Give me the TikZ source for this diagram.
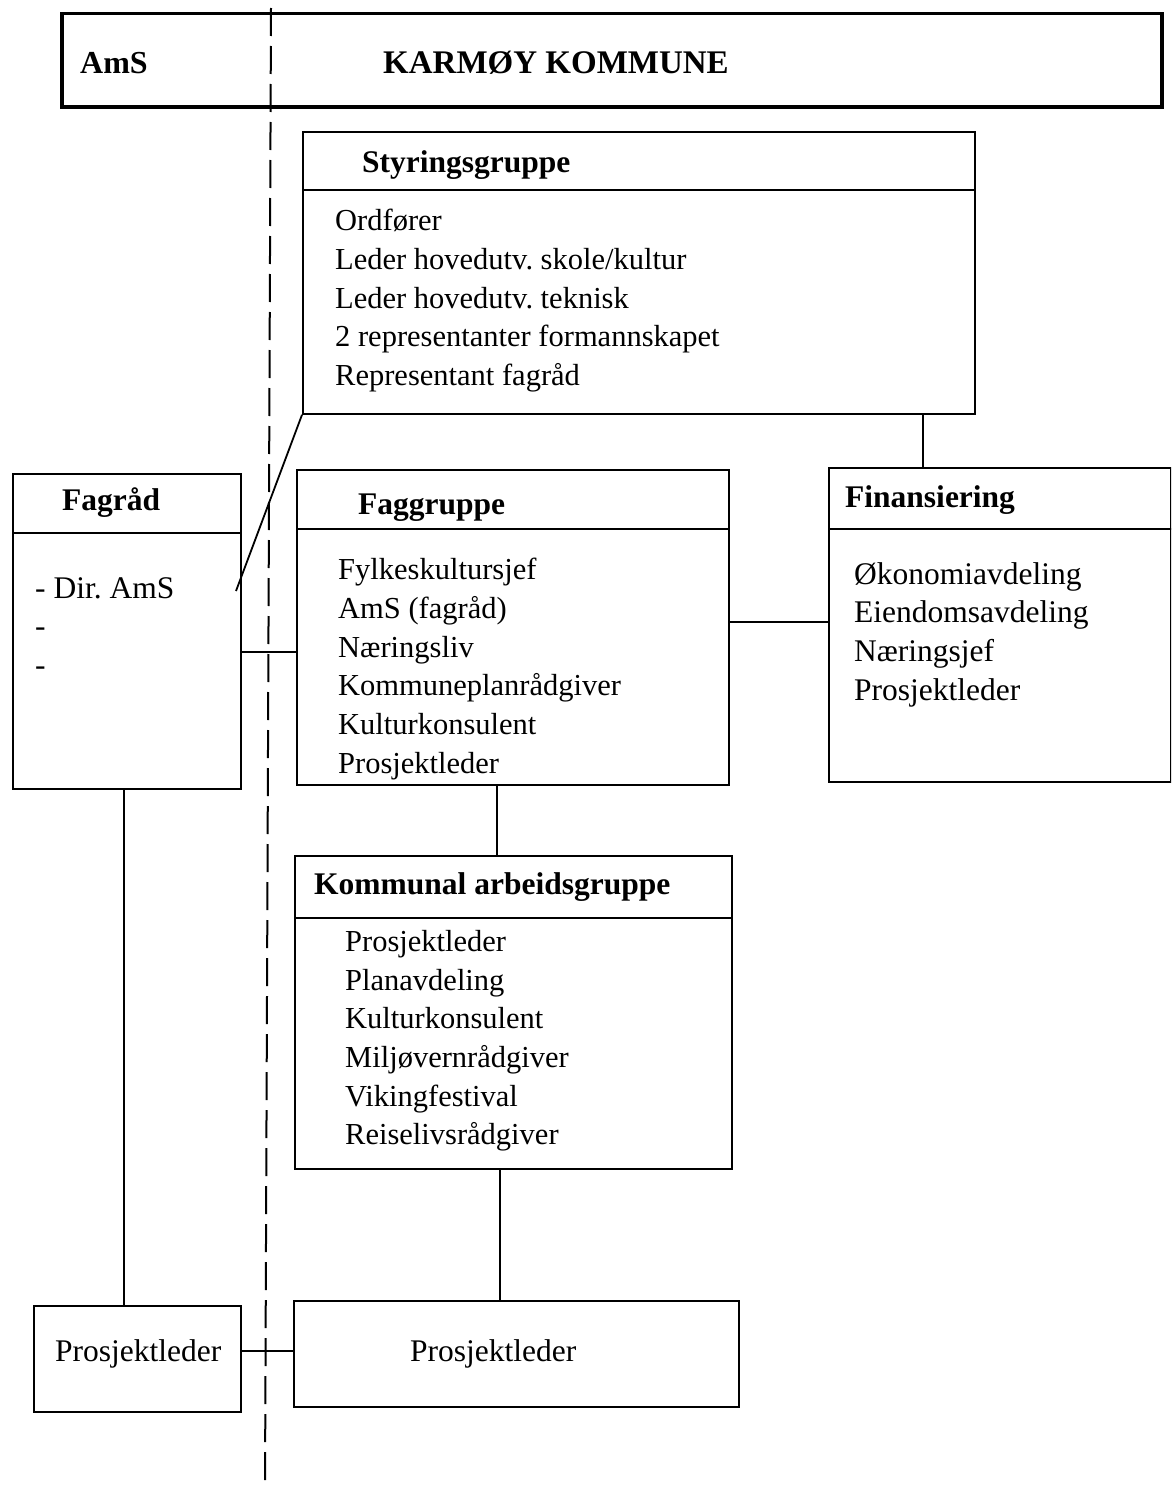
\documentclass[tikz,border=0pt]{standalone}
\usepackage{fontspec}
\setmainfont{Liberation Serif}
\frenchspacing

\begin{document}
\begin{tikzpicture}[
x=1pt, y=-1pt,
box/.style={draw, line width=1.8pt, inner sep=0pt, anchor=north west},
head/.style={font=\fontsize{31.5}{36}\selectfont\bfseries, inner sep=0pt, anchor=base west},
items/.style={font=\fontsize{30.5}{38.7}\selectfont, align=left, inner sep=0pt, anchor=north west, execute at begin node=\strut},
wide/.style={items, font=\fontsize{31.5}{38.7}\selectfont},
link/.style={line width=1.8pt}
]
\clip (0,0) rectangle (1171,1488);
\node[box, line width=3.5pt, minimum width=1100pt, minimum height=93pt] (bar) at (60,12) {};
\node[head, font=\fontsize{32}{36}\selectfont\bfseries] (ams) at (80,74) {AmS};
\node[head, font=\fontsize{33}{36}\selectfont\bfseries] (karmoy) at (383,74) {KARMØY KOMMUNE};
\coordinate (divtop) at (271,8);
\coordinate (divbot) at (265,1490);
\draw[line width=2pt, dash pattern=on 28pt off 10pt] (divtop) -- (divbot);

\node[box, minimum width=672pt, minimum height=282pt] (styr) at (302,131) {};
\draw[link] (styr.west |- 0,190) -- (styr.east |- 0,190);
\node[head] (styrhead) at (362,172) {Styringsgruppe};
\node[items] (styritems) at (335,209) {Ordfører\\Leder hovedutv. skole/kultur\\Leder hovedutv. teknisk\\2 representanter formannskapet\\Representant fagråd};

\node[box, minimum width=228pt, minimum height=315pt] (fagrad) at (12,473) {};
\draw[link] (fagrad.west |- 0,533) -- (fagrad.east |- 0,533);
\node[head] (fagradhead) at (62,510) {Fagråd};
\node[wide] (fagraditems) at (35,577) {- Dir. AmS\\-\\-};
\coordinate (dirams) at (236,591);

\node[box, minimum width=432pt, minimum height=315pt] (fagg) at (296,469) {};
\draw[link] (fagg.west |- 0,529) -- (fagg.east |- 0,529);
\node[head] (fagghead) at (358,514) {Faggruppe};
\node[items] (faggitems) at (338,558) {Fylkeskultursjef\\AmS (fagråd)\\Næringsliv\\Kommuneplanrådgiver\\Kulturkonsulent\\Prosjektleder};

\node[box, minimum width=342pt, minimum height=314pt] (finans) at (828,467) {};
\draw[link] (finans.west |- 0,529) -- (finans.east |- 0,529);
\node[head] (finanshead) at (845,507) {Finansiering};
\node[wide] (finansitems) at (854,562) {Økonomiavdeling\\Eiendomsavdeling\\Næringsjef\\Prosjektleder};

\node[box, minimum width=437pt, minimum height=313pt] (komm) at (294,855) {};
\draw[link] (komm.west |- 0,918) -- (komm.east |- 0,918);
\node[head] (kommhead) at (314,894) {Kommunal arbeidsgruppe};
\node[items] (kommitems) at (345,930) {Prosjektleder\\Planavdeling\\Kulturkonsulent\\Miljøvernrådgiver\\Vikingfestival\\Reiselivsrådgiver};

\node[box, minimum width=207pt, minimum height=106pt] (plleft) at (33,1305) {};
\node[wide, anchor=base west] (plleftlabel) at (55,1361) {Prosjektleder};
\node[box, minimum width=445pt, minimum height=106pt] (plright) at (293,1300) {};
\node[wide, anchor=base west] (plrightlabel) at (410,1361) {Prosjektleder};

\draw[link] (styr.south west) -- (dirams);
\draw[link] (styr.south -| 923,0) -- (finans.north -| 923,0);
\draw[link] (fagrad.east |- 0,652) -- (fagg.west |- 0,652);
\draw[link] (fagg.east |- 0,622) -- (finans.west |- 0,622);
\draw[link] (fagg.south -| 497,0) -- (komm.north -| 497,0);
\draw[link] (komm.south -| 500,0) -- (plright.north -| 500,0);
\draw[link] (fagrad.south -| 124,0) -- (plleft.north -| 124,0);
\draw[link] (plleft.east |- 0,1351) -- (plright.west |- 0,1351);
\end{tikzpicture}
\end{document}
